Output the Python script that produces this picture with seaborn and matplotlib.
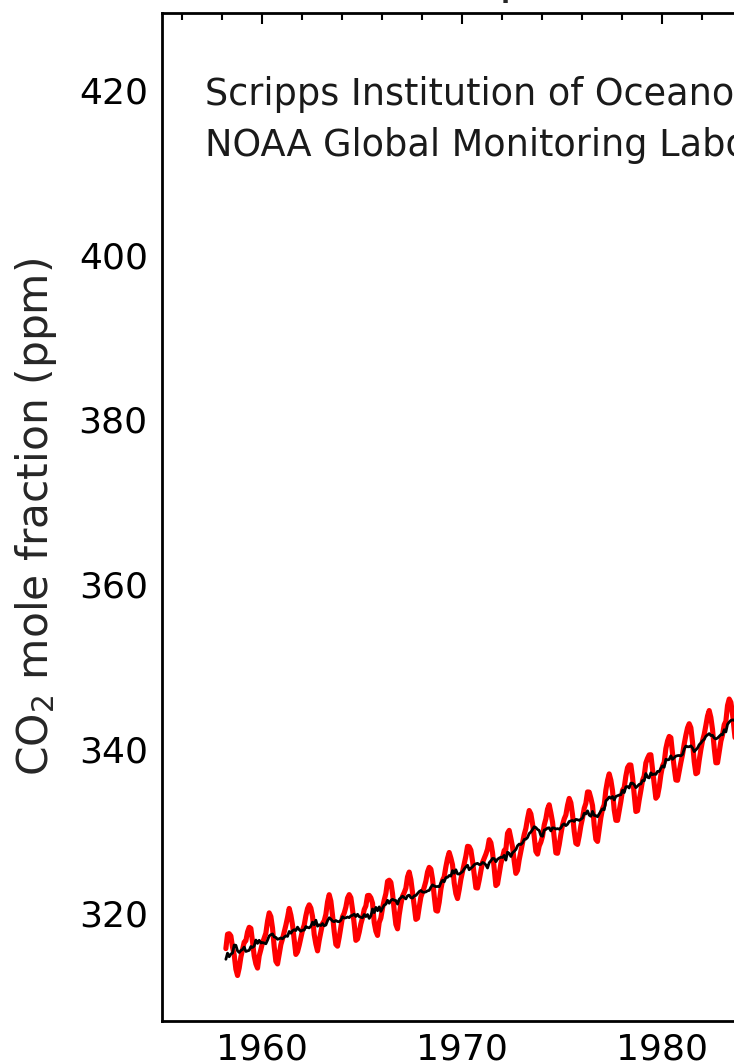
import numpy as np
import pandas as pd
import matplotlib
matplotlib.use("Agg")
import matplotlib.pyplot as plt
import seaborn as sns

# ---------------- data (Mauna Loa monthly CO2, ppm) ----------------
start_year = 1958
start_month = 3  # March 1958

monthly_mean = [
    # 1958 (Mar-Dec)
    315.70, 317.45, 317.51, 317.24, 315.86, 314.93, 313.20, 312.43, 313.33, 314.67,
    # 1959
    315.58, 316.48, 316.65, 317.72, 318.29, 318.15, 316.54, 314.80, 313.84, 313.33, 314.81, 315.58,
    # 1960
    316.43, 316.98, 317.58, 319.03, 320.04, 319.59, 318.18, 315.91, 314.16, 313.83, 315.00, 316.19,
    # 1961
    316.89, 317.70, 318.54, 319.48, 320.58, 319.77, 318.57, 316.79, 314.99, 315.31, 316.10, 317.01,
    # 1962
    317.94, 318.55, 319.68, 320.57, 321.02, 320.62, 319.61, 317.40, 316.25, 315.42, 316.69, 317.70,
    # 1963
    318.74, 319.07, 319.86, 321.38, 322.25, 321.48, 319.74, 317.77, 316.21, 315.99, 317.07, 318.35,
    # 1964
    319.57, 320.01, 320.74, 321.84, 322.26, 321.89, 320.44, 318.69, 316.70, 316.87, 317.68, 318.71,
    # 1965
    319.44, 320.44, 320.89, 322.14, 322.17, 321.87, 321.21, 318.87, 317.81, 317.30, 318.87, 319.42,
    # 1966
    320.62, 321.59, 322.39, 323.87, 324.01, 323.75, 322.39, 320.37, 318.64, 318.10, 319.79, 321.08,
    # 1967
    322.07, 322.50, 323.04, 324.42, 325.00, 324.09, 322.54, 320.92, 319.25, 319.39, 320.73, 321.96,
    # 1968
    322.57, 323.15, 323.89, 325.02, 325.57, 325.36, 324.14, 322.11, 320.33, 320.25, 321.32, 322.89,
    # 1969
    324.00, 324.42, 325.63, 326.66, 327.38, 326.71, 325.88, 323.66, 322.38, 321.78, 322.85, 324.11,
    # 1970
    325.06, 325.98, 326.93, 328.13, 328.08, 327.67, 326.34, 324.69, 323.10, 323.06, 324.01, 325.13,
    # 1971
    326.17, 326.68, 327.17, 327.79, 328.93, 328.57, 327.36, 325.43, 323.36, 323.56, 324.80, 326.01,
    # 1972
    326.77, 327.63, 327.75, 329.72, 330.07, 329.09, 328.04, 326.32, 324.84, 325.20, 326.50, 327.55,
    # 1973
    328.55, 329.56, 330.30, 331.50, 332.48, 332.07, 330.87, 329.31, 327.51, 327.18, 328.16, 328.64,
    # 1974
    329.35, 330.71, 331.48, 332.65, 333.18, 332.20, 331.07, 329.15, 327.33, 327.28, 328.31, 329.58,
    # 1975
    330.73, 331.46, 331.94, 333.11, 333.95, 333.42, 331.97, 329.95, 328.50, 328.36, 329.38, 330.62,
    # 1976
    331.56, 332.74, 333.36, 334.74, 334.72, 333.98, 333.08, 330.68, 328.96, 328.72, 330.16, 331.62,
    # 1977
    332.68, 333.17, 334.96, 336.14, 336.93, 336.17, 334.88, 332.56, 331.29, 331.28, 332.46, 333.60,
    # 1978
    334.94, 335.26, 336.66, 337.69, 338.02, 338.01, 336.50, 334.42, 332.36, 332.45, 333.76, 334.91,
    # 1979
    336.14, 336.69, 338.27, 338.82, 339.24, 339.26, 337.54, 335.72, 333.97, 334.24, 335.32, 336.81,
    # 1980
    337.90, 338.34, 340.01, 340.93, 341.48, 341.33, 339.40, 337.70, 336.19, 336.15, 337.27, 338.32,
    # 1981
    339.29, 340.55, 341.62, 342.53, 343.03, 342.54, 340.78, 338.44, 336.95, 337.08, 338.58, 339.88,
    # 1982
    340.96, 341.73, 342.81, 343.97, 344.63, 343.79, 342.32, 340.09, 338.28, 338.29, 339.60, 340.90,
    # 1983
    341.68, 342.90, 343.33, 345.25, 346.03, 345.63, 344.19, 342.27, 340.35, 340.38, 341.59, 343.05,
]

deseasonalized = [
    # 1958 (Mar-Dec)
    314.40, 315.15, 314.71, 315.04, 315.16, 316.13, 316.10, 315.43, 315.23, 315.47,
    # 1959
    315.58, 315.88, 315.35, 315.42, 315.49, 315.95, 315.84, 316.00, 316.74, 316.33, 316.71, 316.38,
    # 1960
    316.43, 316.38, 316.28, 316.73, 317.24, 317.39, 317.48, 317.11, 317.06, 316.83, 316.90, 316.99,
    # 1961
    316.89, 317.10, 317.24, 317.18, 317.78, 317.57, 317.87, 317.99, 317.89, 318.31, 318.00, 317.81,
    # 1962
    317.94, 317.95, 318.38, 318.27, 318.22, 318.42, 318.91, 318.60, 319.15, 318.42, 318.59, 318.50,
    # 1963
    318.74, 318.47, 318.56, 319.08, 319.45, 319.28, 319.04, 318.97, 319.11, 318.99, 318.97, 319.15,
    # 1964
    319.57, 319.41, 319.44, 319.54, 319.46, 319.69, 319.74, 319.89, 319.60, 319.87, 319.58, 319.51,
    # 1965
    319.44, 319.84, 319.59, 319.84, 319.37, 319.67, 320.51, 320.07, 320.71, 320.30, 320.77, 320.22,
    # 1966
    320.62, 320.99, 321.09, 321.57, 321.21, 321.55, 321.69, 321.57, 321.54, 321.10, 321.69, 321.88,
    # 1967
    322.07, 321.90, 321.74, 322.12, 322.20, 321.89, 321.84, 322.12, 322.15, 322.39, 322.63, 322.76,
    # 1968
    322.57, 322.55, 322.59, 322.72, 322.77, 323.16, 323.44, 323.31, 323.23, 323.25, 323.22, 323.69,
    # 1969
    324.00, 323.82, 324.33, 324.36, 324.58, 324.51, 325.18, 324.86, 325.28, 324.78, 324.75, 324.91,
    # 1970
    325.06, 325.38, 325.63, 325.83, 325.28, 325.47, 325.64, 325.89, 326.00, 326.06, 325.91, 325.93,
    # 1971
    326.17, 326.08, 325.87, 325.49, 326.13, 326.37, 326.66, 326.63, 326.26, 326.56, 326.70, 326.81,
    # 1972
    326.77, 327.03, 326.45, 327.42, 327.27, 326.89, 327.34, 327.52, 327.74, 328.20, 328.40, 328.35,
    # 1973
    328.55, 328.96, 329.00, 329.20, 329.68, 329.87, 330.17, 330.51, 330.41, 330.18, 330.06, 329.44,
    # 1974
    329.35, 330.11, 330.18, 330.35, 330.38, 330.00, 330.37, 330.35, 330.23, 330.28, 330.21, 330.38,
    # 1975
    330.73, 330.86, 330.64, 330.81, 331.15, 331.22, 331.27, 331.15, 331.40, 331.36, 331.28, 331.42,
    # 1976
    331.56, 332.14, 332.06, 332.44, 331.92, 331.78, 332.38, 331.88, 331.86, 331.72, 332.06, 332.42,
    # 1977
    332.68, 332.57, 333.66, 333.84, 334.13, 333.97, 334.18, 333.76, 334.19, 334.28, 334.36, 334.40,
    # 1978
    334.94, 334.66, 335.36, 335.39, 335.22, 335.81, 335.80, 335.62, 335.26, 335.45, 335.66, 335.71,
    # 1979
    336.14, 336.09, 336.97, 336.52, 336.44, 337.06, 336.84, 336.92, 336.87, 337.24, 337.22, 337.61,
    # 1980
    337.90, 337.74, 338.71, 338.63, 338.68, 339.13, 338.70, 338.90, 339.09, 339.15, 339.17, 339.12,
    # 1981
    339.29, 339.95, 340.32, 340.23, 340.23, 340.34, 340.08, 339.64, 339.85, 340.08, 340.48, 340.68,
    # 1982
    340.96, 341.13, 341.51, 341.67, 341.83, 341.59, 341.62, 341.29, 341.18, 341.29, 341.50, 341.70,
    # 1983
    341.68, 342.30, 342.03, 342.95, 343.23, 343.43, 343.49, 343.47, 343.25, 343.38, 343.49, 343.85,
]

title_text = "Atmospheric CO$_2$ at Mauna Loa Observatory"
source_text = "Scripps Institution of Oceanography\nNOAA Global Monitoring Laboratory"
ylabel_text = "CO$_2$ mole fraction (ppm)"

# decimal dates (mid-month)
n = len(monthly_mean)
months_idx = np.arange(n) + (start_month - 1)
decimal_date = start_year + (months_idx + 0.5) / 12.0
df = pd.DataFrame({"date": decimal_date, "co2": monthly_mean, "trend": deseasonalized})

# ---------------- figure ----------------
sns.set_style("white")
plt.rcParams["font.family"] = ["DejaVu Sans"]
plt.rcParams["mathtext.fontset"] = "dejavusans"

W, H = 734, 1064
fig = plt.figure(figsize=(W / 100, H / 100), dpi=100)
fig.patch.set_facecolor("white")

px_per_year = 20.0
x0 = 1955.0
x1 = 2026.8
ax_left_px, ax_bottom_px, ax_top_px = 161.7, 1021.0, 13.0
ax_w_px = (x1 - x0) * px_per_year
ax_h_px = ax_bottom_px - ax_top_px
ax = fig.add_axes([ax_left_px / W, (H - ax_bottom_px) / H, ax_w_px / W, ax_h_px / H])

sns.lineplot(data=df, x="date", y="co2", color="#ff0000", linewidth=3.7,
             estimator=None, ax=ax)
sns.lineplot(data=df, x="date", y="trend", color="black", linewidth=2.0,
             estimator=None, ax=ax)

ax.set_xlim(x0, x1)
ax.set_ylim(306.9, 429.4)

ax.xaxis.set_major_locator(matplotlib.ticker.MultipleLocator(10))
ax.xaxis.set_minor_locator(matplotlib.ticker.MultipleLocator(2))
ax.yaxis.set_major_locator(matplotlib.ticker.MultipleLocator(20))
ax.yaxis.set_minor_locator(matplotlib.ticker.MultipleLocator(5))
ax.tick_params(which="both", direction="in", top=True, right=True,
               labelsize=26, colors="black", width=1.5)
ax.tick_params(axis="x", which="both", pad=8)
ax.tick_params(axis="y", which="both", pad=10)
ax.tick_params(which="major", length=8)
ax.tick_params(which="minor", length=5)
for s in ax.spines.values():
    s.set_linewidth(2.0)
    s.set_color("black")

ax.set_xlabel("")
ax.set_ylabel(ylabel_text, fontsize=30.5, labelpad=14)

ax.text((205 - ax_left_px) / ax_w_px, 1 - (76 - ax_top_px) / ax_h_px,
        source_text, transform=ax.transAxes, ha="left", va="top",
        fontsize=26.4, linespacing=1.5, color="#1a1a1a")

fig.text(346 / W, (H + 7) / H, title_text, ha="left", va="baseline", fontsize=34.6)

fig.savefig("out.png", dpi=100)
